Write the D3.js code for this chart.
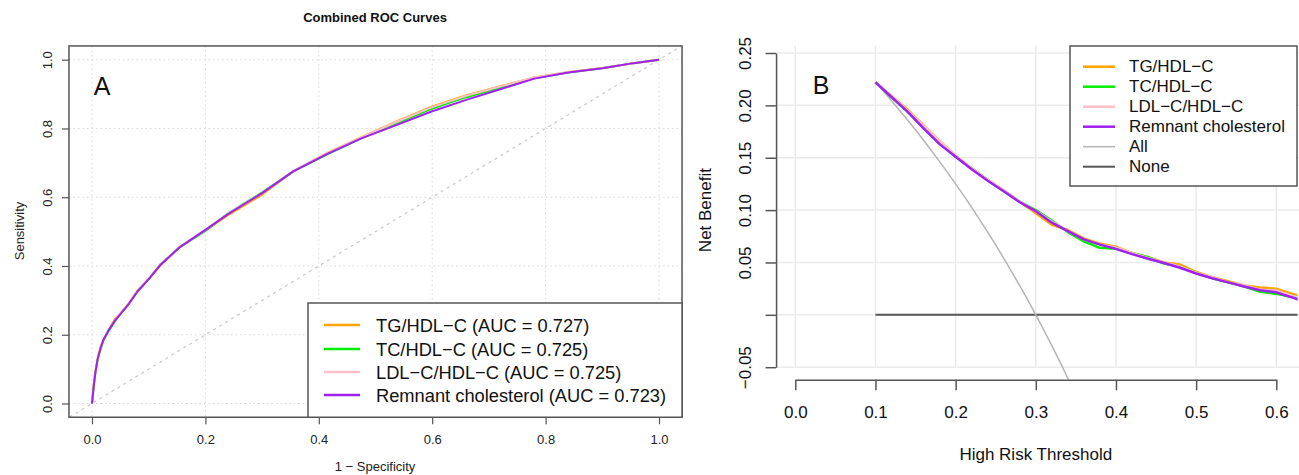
<!DOCTYPE html>
<html><head><meta charset="utf-8">
<script src="https://cdn.jsdelivr.net/npm/d3@7"></script>
<style>
html,body{margin:0;padding:0;background:#fff;}
svg{display:block;font-family:"Liberation Sans",Arial,Helvetica,sans-serif;}
</style></head>
<body>
<svg id="chart" width="1299" height="475"></svg>
<script>
// ---------- Panel A: ROC data ----------
const rocSeries = ["TG/HDL−C","TC/HDL−C","LDL−C/HDL−C","Remnant cholesterol"];
const rocAUC = ["0.727","0.725","0.725","0.723"];
const rocColors = ["#FFA500","#00EE00","#FFC0CB","#A020F0"];
const rocFpr = [0,0.003,0.006,0.01,0.015,0.02,0.03,0.04,0.05,0.065,0.08,0.1,0.12,0.155,0.2,0.24,0.3,0.355,0.415,0.475,0.54,0.6,0.66,0.72,0.78,0.84,0.9,0.955,1];
const tprTG  = [0,0.055,0.095,0.13,0.165,0.185,0.215,0.245,0.262,0.292,0.328,0.362,0.4,0.456,0.503,0.548,0.607,0.676,0.729,0.775,0.823,0.864,0.897,0.923,0.948,0.964,0.976,0.99,1];
const tprTC  = [0,0.05,0.09,0.128,0.158,0.183,0.212,0.238,0.26,0.29,0.327,0.362,0.404,0.455,0.502,0.553,0.614,0.675,0.725,0.771,0.817,0.858,0.891,0.918,0.946,0.963,0.975,0.99,1];
const tprLDL = [0,0.052,0.092,0.13,0.16,0.186,0.216,0.242,0.262,0.292,0.327,0.363,0.403,0.456,0.505,0.552,0.612,0.676,0.729,0.774,0.821,0.862,0.895,0.922,0.948,0.964,0.976,0.99,1];
const tprRC  = [0,0.05,0.09,0.13,0.16,0.185,0.215,0.24,0.26,0.29,0.325,0.362,0.402,0.455,0.505,0.551,0.612,0.675,0.726,0.771,0.812,0.85,0.883,0.914,0.945,0.963,0.975,0.99,1];
const rocTicks = [0,0.2,0.4,0.6,0.8,1.0];

// ---------- Panel B: DCA data ----------
const dcaLabels = ["TG/HDL−C","TC/HDL−C","LDL−C/HDL−C","Remnant cholesterol","All","None"];
const dcaColors = ["#FFA500","#00EE00","#FFC0CB","#A020F0","#b4b4b4","#555555"];
const dcaThreshold = [0.10,0.12,0.14,0.16,0.18,0.20,0.22,0.24,0.26,0.28,0.30,0.32,0.34,0.36,0.38,0.40,0.42,0.44,0.46,0.48,0.50,0.52,0.54,0.56,0.58,0.60,0.62,0.63];
const nbTG  = [0.222,0.209,0.196,0.181,0.166,0.152,0.140,0.129,0.119,0.108,0.097,0.086,0.081,0.073,0.068,0.065,0.059,0.055,0.050,0.048,0.041,0.036,0.032,0.028,0.026,0.025,0.020,0.018];
const nbTC  = [0.222,0.208,0.194,0.179,0.164,0.151,0.140,0.129,0.118,0.108,0.100,0.090,0.079,0.070,0.064,0.063,0.059,0.055,0.049,0.046,0.040,0.035,0.031,0.027,0.022,0.020,0.017,0.015];
const nbLDL = [0.222,0.209,0.195,0.181,0.166,0.152,0.140,0.129,0.119,0.108,0.099,0.089,0.080,0.072,0.067,0.064,0.059,0.054,0.050,0.046,0.040,0.036,0.031,0.028,0.024,0.023,0.018,0.016];
const nbRC  = [0.222,0.208,0.194,0.178,0.163,0.151,0.139,0.128,0.118,0.1075,0.099,0.088,0.080,0.072,0.067,0.063,0.058,0.0535,0.0495,0.045,0.0395,0.035,0.031,0.027,0.0235,0.0215,0.0165,0.014];
const allThreshold = [0.10,0.12,0.14,0.16,0.18,0.20,0.22,0.24,0.26,0.28,0.30,0.32,0.34,0.36];
const nbAll = [0.222,0.2045,0.186,0.1667,0.1463,0.125,0.1026,0.0789,0.054,0.0278,0.0,-0.0294,-0.0606,-0.0938];
const noneThreshold = [0.10,0.63];
const nbNone = [0,0];
const dcaXTicks = [0,0.1,0.2,0.3,0.4,0.5,0.6];
const dcaYTicks = [-0.05,0,0.05,0.10,0.15,0.20,0.25];

const svg = d3.select("#chart");
const axisCol = "#555";

// ================= Panel A =================
const xL = d3.scaleLinear().domain([0,1]).range([92,659]);
const yL = d3.scaleLinear().domain([0,1]).range([403.5,59.7]);
const boxL = {x0:xL(-0.0406), x1:xL(1.0406), y0:yL(1.04), y1:yL(-0.04)};
const gA = svg.append("g");
gA.append("clipPath").attr("id","clipA").append("rect")
  .attr("x",boxL.x0).attr("y",boxL.y0).attr("width",boxL.x1-boxL.x0).attr("height",boxL.y1-boxL.y0);

// grid
gA.selectAll(".gx").data(rocTicks).join("line")
  .attr("x1",d=>xL(d)).attr("x2",d=>xL(d)).attr("y1",boxL.y0).attr("y2",boxL.y1)
  .attr("stroke","#d9d9d9").attr("stroke-width",1).attr("stroke-dasharray","1.5,3");
gA.selectAll(".gy").data(rocTicks).join("line")
  .attr("y1",d=>yL(d)).attr("y2",d=>yL(d)).attr("x1",boxL.x0).attr("x2",boxL.x1)
  .attr("stroke","#d9d9d9").attr("stroke-width",1).attr("stroke-dasharray","1.5,3");
// diagonal
gA.append("line").attr("clip-path","url(#clipA)")
  .attr("x1",xL(-0.05)).attr("y1",yL(-0.05)).attr("x2",xL(1.05)).attr("y2",yL(1.05))
  .attr("stroke","#c8c8c8").attr("stroke-width",1.2).attr("stroke-dasharray","3,4");

const rocData = [tprTG,tprTC,tprLDL,tprRC];
const lineL = d3.line().x(d=>xL(d[0])).y(d=>yL(d[1]));
rocData.forEach((tpr,i)=>{
  gA.append("path").attr("clip-path","url(#clipA)")
    .attr("d",lineL(rocFpr.map((f,j)=>[f,tpr[j]])))
    .attr("fill","none").attr("stroke",rocColors[i]).attr("stroke-width",2)
    .attr("stroke-linejoin","round");
});

// box
gA.append("rect").attr("x",boxL.x0).attr("y",boxL.y0).attr("width",boxL.x1-boxL.x0).attr("height",boxL.y1-boxL.y0)
  .attr("fill","none").attr("stroke",axisCol).attr("stroke-width",1.5);

// axes
const axL = gA.append("g").attr("transform",`translate(${boxL.x0},0)`)
  .call(d3.axisLeft(yL).tickValues(rocTicks).tickFormat(d3.format(".1f")).tickSize(7).tickSizeOuter(0));
axL.select(".domain").remove();
axL.selectAll("line").attr("stroke",axisCol).attr("stroke-width",1.2);
axL.selectAll("text").attr("x",0).attr("dy",null).attr("text-anchor","middle")
  .attr("dominant-baseline","central").attr("transform","translate(-21,0) rotate(-90)")
  .attr("font-size",13).attr("fill","#222").attr("font-family","Liberation Sans, Arial, sans-serif");
const axB = gA.append("g").attr("transform",`translate(0,${boxL.y1})`)
  .call(d3.axisBottom(xL).tickValues(rocTicks).tickFormat(d3.format(".1f")).tickSize(7).tickSizeOuter(0));
axB.select(".domain").remove();
axB.selectAll("line").attr("stroke",axisCol).attr("stroke-width",1.2);
axB.selectAll("text").attr("y",22).attr("dy",null).attr("dominant-baseline","central")
  .attr("font-size",13).attr("fill","#222").attr("font-family","Liberation Sans, Arial, sans-serif");

// titles
gA.append("text").attr("x",375).attr("y",17).attr("text-anchor","middle").attr("dominant-baseline","central")
  .attr("font-weight","bold").attr("font-size",13).attr("fill","#111").text("Combined ROC Curves");
gA.append("text").attr("x",375).attr("y",466).attr("text-anchor","middle").attr("dominant-baseline","central")
  .attr("font-size",13).attr("fill","#222").text("1 − Specificity");
gA.append("text").attr("transform","translate(19,231) rotate(-90)").attr("text-anchor","middle").attr("dominant-baseline","central")
  .attr("font-size",13).attr("fill","#222").text("Sensitivity");
gA.append("text").attr("x",102).attr("y",86).attr("text-anchor","middle").attr("dominant-baseline","central")
  .attr("font-size",25).attr("fill","#111").text("A");

// legend A
const legA = gA.append("g");
legA.append("rect").attr("x",308).attr("y",303).attr("width",boxL.x1-308).attr("height",boxL.y1-303)
  .attr("fill","#fff").attr("stroke",axisCol).attr("stroke-width",1.5);
const legARows = [325,349,372,395];
rocSeries.forEach((s,i)=>{
  legA.append("line").attr("x1",324).attr("x2",360).attr("y1",legARows[i]).attr("y2",legARows[i])
    .attr("stroke",rocColors[i]).attr("stroke-width",2.5);
  legA.append("text").attr("x",376).attr("y",legARows[i]).attr("dominant-baseline","central")
    .attr("font-size",18.3).attr("fill","#111").text(`${s} (AUC = ${rocAUC[i]})`);
});

// ================= Panel B =================
const xR = d3.scaleLinear().domain([0,0.6]).range([795.3,1276.3]);
const yR = d3.scaleLinear().domain([-0.05,0.25]).range([367.2,53]);
const plotR = {x0:xR(-0.024), x1:xR(0.624), y0:yR(0.262), y1:yR(-0.062)};
const gB = svg.append("g");
gB.append("clipPath").attr("id","clipB").append("rect")
  .attr("x",plotR.x0).attr("y",plotR.y0).attr("width",plotR.x1-plotR.x0+2).attr("height",plotR.y1-plotR.y0);

// grid
gB.selectAll(".gbx").data(dcaXTicks).join("line")
  .attr("x1",d=>xR(d)).attr("x2",d=>xR(d)).attr("y1",yR(0.257)).attr("y2",yR(-0.051))
  .attr("stroke","#ebebeb").attr("stroke-width",1.5);
gB.selectAll(".gby").data(dcaYTicks).join("line")
  .attr("y1",d=>yR(d)).attr("y2",d=>yR(d)).attr("x1",plotR.x0).attr("x2",1299)
  .attr("stroke","#ebebeb").attr("stroke-width",1.5);

const lineR = d3.line().x(d=>xR(d[0])).y(d=>yR(d[1]));
// None
gB.append("path").attr("clip-path","url(#clipB)")
  .attr("d",lineR(noneThreshold.map((t,j)=>[t,nbNone[j]])))
  .attr("fill","none").attr("stroke",dcaColors[5]).attr("stroke-width",2);
// All
gB.append("path").attr("clip-path","url(#clipB)")
  .attr("d",lineR.curve(d3.curveMonotoneX)(allThreshold.map((t,j)=>[t,nbAll[j]])))
  .attr("fill","none").attr("stroke",dcaColors[4]).attr("stroke-width",1.5);
lineR.curve(d3.curveLinear);
[nbTG,nbTC,nbLDL,nbRC].forEach((nb,i)=>{
  gB.append("path").attr("clip-path","url(#clipB)")
    .attr("d",lineR(dcaThreshold.map((t,j)=>[t,nb[j]])))
    .attr("fill","none").attr("stroke",dcaColors[i]).attr("stroke-width",2.5)
    .attr("stroke-linejoin","round");
});

// axes B
const ayR = gB.append("g").attr("transform",`translate(${plotR.x0},0)`)
  .call(d3.axisLeft(yR).tickValues(dcaYTicks).tickFormat(d=>Math.abs(d)<1e-9?"":d3.format(".2f")(d)).tickSize(10.5).tickSizeOuter(0));
ayR.select(".domain").attr("stroke",axisCol).attr("stroke-width",1.5);
ayR.selectAll("line").attr("stroke",axisCol).attr("stroke-width",1.5);
ayR.selectAll("text").attr("x",0).attr("dy",null).attr("text-anchor","middle")
  .attr("dominant-baseline","central").attr("transform","translate(-31,0) rotate(-90)")
  .attr("font-size",17).attr("fill","#111").attr("font-family","Liberation Sans, Arial, sans-serif");
const axR = gB.append("g").attr("transform",`translate(0,${plotR.y1})`)
  .call(d3.axisBottom(xR).tickValues(dcaXTicks).tickFormat(d3.format(".1f")).tickSize(10.5).tickSizeOuter(0));
axR.select(".domain").attr("stroke",axisCol).attr("stroke-width",1.5);
axR.selectAll("line").attr("stroke",axisCol).attr("stroke-width",1.5);
axR.selectAll("text").attr("y",33).attr("dy",null).attr("dominant-baseline","central")
  .attr("font-size",17).attr("fill","#111").attr("font-family","Liberation Sans, Arial, sans-serif");

gB.append("text").attr("x",(plotR.x0+plotR.x1)/2).attr("y",454).attr("text-anchor","middle").attr("dominant-baseline","central")
  .attr("font-size",17).attr("fill","#111").text("High Risk Threshold");
gB.append("text").attr("transform",`translate(705,${(yR(0.25)+yR(-0.05))/2}) rotate(-90)`).attr("text-anchor","middle").attr("dominant-baseline","central")
  .attr("font-size",17).attr("fill","#111").text("Net Benefit");
gB.append("text").attr("x",821).attr("y",85).attr("text-anchor","middle").attr("dominant-baseline","central")
  .attr("font-size",25).attr("fill","#111").text("B");

// legend B
const legB = gB.append("g");
legB.append("rect").attr("x",1070).attr("y",46).attr("width",227).attr("height",140)
  .attr("fill","#fff").attr("stroke",axisCol).attr("stroke-width",1.5);
dcaLabels.forEach((s,i)=>{
  const y = 66.7 + i*20;
  legB.append("line").attr("x1",1083).attr("x2",1115).attr("y1",y).attr("y2",y)
    .attr("stroke",dcaColors[i]).attr("stroke-width", i<4 ? 2.5 : (i===4?1.5:2));
  legB.append("text").attr("x",1129).attr("y",y).attr("dominant-baseline","central")
    .attr("font-size",17).attr("fill","#111").text(s);
});
</script>
</body></html>
